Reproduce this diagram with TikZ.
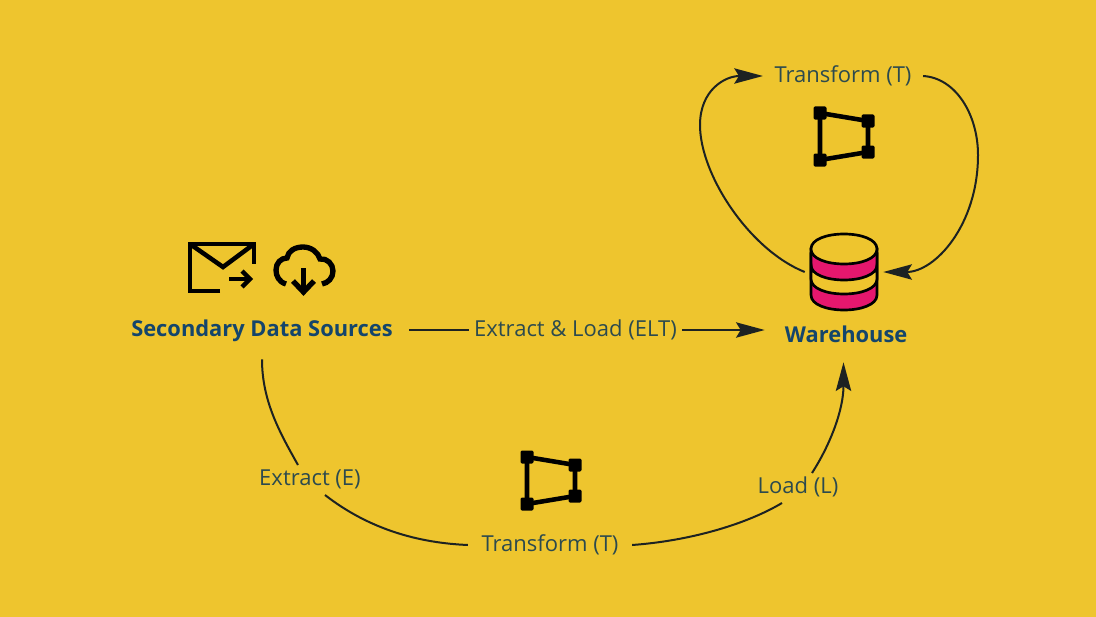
\documentclass[tikz,border=0pt]{standalone}
\usepackage{fontspec}
\setmainfont{Open Sans}
\usetikzlibrary{arrows.meta,calc}
\definecolor{bgyellow}{HTML}{EEC52E}
\definecolor{labelink}{HTML}{2C4A4E}
\definecolor{boldink}{HTML}{14456B}
\definecolor{lineink}{HTML}{1D2222}
\definecolor{dbpink}{HTML}{E5176E}
\tikzset{
  lbl/.style={text=labelink,font=\fontsize{16.5pt}{19pt}\selectfont,inner ysep=0pt,inner xsep=3.75pt},
  hdr/.style={text=boldink,font=\fontsize{16.4pt}{19pt}\selectfont\bfseries,inner ysep=0pt,minimum height=42pt},
  flow/.style={draw=lineink,line width=1.5pt},
  flowtip/.style={flow,-{Stealth[length=21.5pt,width=11.5pt,inset=3.5pt]}},
  icon/.style={draw=black,line width=3.4pt},
  cloudline/.style={draw=black,line width=4pt},
  pics/tficon/.style={code={
    \draw[icon] (0,0) -- (48,8) -- (48,39) -- (0,47) -- cycle;
    \foreach \px/\py in {0/0,48/8,48/39,0/47}
      \fill[black,rounded corners=1pt] (\px-6.5,\py-6.5) rectangle (\px+6.5,\py+6.5);
  }}
}
\begin{document}
\begin{tikzpicture}[x=0.75pt,y=-0.75pt]
\useasboundingbox (0,0) rectangle (1096,617);
\fill[bgyellow] (0,0) rectangle (1096,617);

% nodes
\node[hdr,inner xsep=12pt] (src) at (262,331) {Secondary Data Sources};
\node[hdr,inner xsep=11pt] (wh) at (843.5,334) {\hspace{4pt}Warehouse};
\node[lbl] (el) at (575.5,330) {Extract \& Load (ELT)};
\node[lbl,inner xsep=8.5pt] (tt) at (843,76) {Transform (T)};
\node[lbl,inner xsep=10pt] (tb) at (550,545) {Transform (T)};
\node[lbl] (ex) at (310,479) {Extract (E)};
\node[lbl] (ld) at (798,487) {Load (L)};
\node[minimum width=58.5pt,minimum height=57pt,inner sep=0pt] (db) at (844,272) {};

% connectors
\draw[flow] (src.east |- el.west) -- (el.west);
\draw[flowtip] (el.east) -- (wh.west |- el.east);
\draw[flow] (src.south) .. controls +(0,42) and ($(ex.center)+(-30,-46)$) .. ($(ex.center)+(-12,-14)$);
\draw[flow] ($(ex.center)+(15,16)$) .. controls +(45,35) and ($(tb.west)+(-48,-2)$) .. (tb.west);
\draw[flow] (tb.east) .. controls +(56,-4) and ($(ld.center)+(-53,38)$) .. ($(ld.center)+(-16,16)$);
\draw[flowtip] ($(ld.center)+(14,-14)$) .. controls +(18,-28) and ($(wh.south)+(0,48)$) .. (wh.south);
\draw[flowtip] (db.west) .. controls +(-55,-22) and (700,175) .. (700,125) .. controls (700,90) and (725,76) .. (tt.west);
\draw[flowtip] (tt.east) .. controls +(33,2) and (978,115) .. (978,155) .. controls (978,225) and (935,272) .. (db.east);

% transform icons
\pic at (820,113) {tficon};
\pic at (527,457) {tficon};

% envelope
\draw[icon,line cap=square,line join=miter] (220,291) -- (190,291) -- (190,244) -- (254,244) -- (254,264);
\draw[icon,line join=miter] (190,244) -- (223,267) -- (254,244);
\draw[icon] (229,279) -- (249,279);
\draw[icon] (242,271) -- (250,279) -- (242,287);

% cloud
\draw[cloudline,line cap=butt] (286,284) .. controls (279,282) and (276,276) .. (276,270)
  .. controls (276,263) and (281,258) .. (287,258)
  .. controls (288,251) and (295,247) .. (303,247)
  .. controls (311,247) and (318,252) .. (320,259)
  .. controls (327,258) and (333,264) .. (333,271)
  .. controls (333,278) and (328,283) .. (322,284);
\draw[cloudline] (303.5,268) -- (303.5,291);
\draw[cloudline,line join=miter] (293,281) -- (303.5,292) -- (314,281);

% cylinder
\filldraw[draw=black,line width=2pt,fill=dbpink] (811,249) -- (811,295) .. controls (811,315) and (877,315) .. (877,295) -- (877,249) -- cycle;
\filldraw[draw=black,line width=2pt,fill=bgyellow] (811,265) .. controls (811,285) and (877,285) .. (877,265) -- (877,279) .. controls (877,299) and (811,299) .. (811,279) -- cycle;
\filldraw[draw=black,line width=2pt,fill=bgyellow] (811,249) .. controls (811,229) and (877,229) .. (877,249) .. controls (877,269) and (811,269) .. (811,249) -- cycle;
\end{tikzpicture}
\end{document}
